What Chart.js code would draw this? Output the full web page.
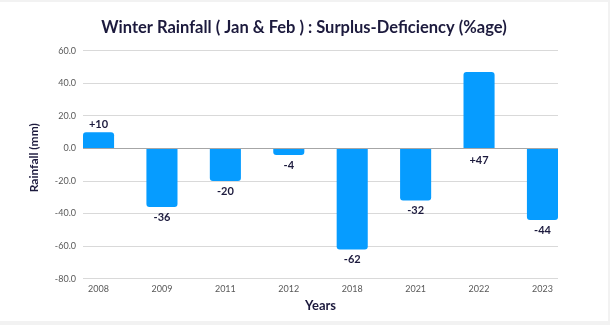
<!DOCTYPE html>
<html>
<head>
<meta charset="utf-8">
<script src="https://cdn.jsdelivr.net/npm/chart.js@4.4.1/dist/chart.umd.min.js"></script>
<style>
  html, body { margin: 0; padding: 0; background: #f2f2f2; }
  #card { position: absolute; left: 0; top: 2px; width: 608px; height: 319px; background: #ffffff; }
  canvas { display: block; }
</style>
</head>
<body>
<div id="card"><canvas id="rainChart" width="608" height="319"></canvas></div>
<script>
const years = ['2008', '2009', '2011', '2012', '2018', '2021', '2022', '2023'];
const departure = [10, -36, -20, -4, -62, -32, 47, -44];
const yTicks = [60, 40, 20, 0, -20, -40, -60, -80];

// labels that sit under the zero line instead of at the bar end
const labelUnderAxis = ['2022'];

const navy = '#1c1a3d';
const barBlue = '#069cff';

// value labels: "+10" / "-36" style
const valueLabels = {
  id: 'valueLabels',
  afterDatasetsDraw(chart) {
    const { ctx, scales } = chart;
    const zeroY = scales.y.getPixelForValue(0);
    const meta = chart.getDatasetMeta(0);
    ctx.save();
    ctx.font = 'bold 11px Lato';
    ctx.fillStyle = navy;
    ctx.textAlign = 'center';
    ctx.textBaseline = 'middle';
    meta.data.forEach((bar, i) => {
      const v = departure[i];
      const text = (v > 0 ? '+' : '') + v;
      let y;
      if (labelUnderAxis.includes(years[i])) y = zeroY + 12;
      else if (v >= 0) y = bar.y - 8;
      else y = bar.y + 10;
      ctx.fillText(text, bar.x, y);
    });
    ctx.restore();
  }
};

// rotated y-axis title, sitting a little above the plot's middle
const yAxisTitle = {
  id: 'yAxisTitle',
  afterDraw(chart) {
    const { ctx, chartArea } = chart;
    ctx.save();
    ctx.translate(34, (chartArea.top + chartArea.bottom) / 2 - 7);
    ctx.rotate(-Math.PI / 2);
    ctx.font = 'bold 12px Lato';
    ctx.fillStyle = navy;
    ctx.textAlign = 'center';
    ctx.textBaseline = 'middle';
    ctx.fillText('Rainfall (mm)', 0, 0);
    ctx.restore();
  }
};

new Chart(document.getElementById('rainChart').getContext('2d'), {
  type: 'bar',
  data: {
    datasets: [
      {
        data: departure.map((v, i) => ({ x: i, y: v })),
        backgroundColor: barBlue,
        borderRadius: 3,
        barPercentage: 0.49,
        categoryPercentage: 1,
      },
    ],
  },
  options: {
    responsive: false,
    animation: false,
    layout: { padding: { left: 0, right: 0, top: 0, bottom: 8.5 } },
    plugins: {
      legend: { display: false },
      tooltip: { enabled: false },
      title: {
        display: true,
        text: 'Winter Rainfall ( Jan & Feb ) : Surplus-Deficiency (%age)',
        color: navy,
        font: { family: 'Lato', size: 16.5, weight: 'bold' },
        padding: { top: 16, bottom: 13 },
      },
    },
    scales: {
      x: {
        type: 'linear',
        offset: false,
        min: -0.245,
        max: 7.245,
        grid: { display: false, drawTicks: false },
        border: { display: false },
        afterBuildTicks: (scale) => {
          scale.ticks = years.map((_, i) => ({ value: i }));
        },
        ticks: {
          autoSkip: false,
          maxRotation: 0,
          padding: 5,
          color: '#595959',
          font: { family: 'Lato', size: 9 },
          callback: (value) => years[value] ?? '',
        },
        title: {
          display: true,
          text: 'Years',
          color: navy,
          font: { family: 'Lato', size: 13, weight: 'bold', lineHeight: 1 },
          padding: { top: 0, bottom: 0 },
        },
      },
      y: {
        min: -80,
        max: 60,
        afterBuildTicks: (scale) => {
          scale.ticks = yTicks.map((v) => ({ value: v }));
        },
        afterFit: (scale) => {
          scale.width = 83;
        },
        grid: {
          drawTicks: false,
          color: (c) => (c.tick && c.tick.value === 0 ? '#a6a6a6' : '#d9d9d9'),
        },
        border: { display: false },
        ticks: {
          padding: 7,
          color: '#595959',
          font: { family: 'Lato', size: 9 },
          callback: (value) => value.toFixed(1),
        },
      },
      // empty right-hand gutter so the title stays centred on the card
      gutter: {
        position: 'right',
        grid: { display: false, drawTicks: false },
        border: { display: false },
        ticks: { display: false },
        afterFit: (scale) => {
          scale.width = 50;
        },
      },
    },
  },
  plugins: [valueLabels, yAxisTitle],
});
</script>
</body>
</html>
